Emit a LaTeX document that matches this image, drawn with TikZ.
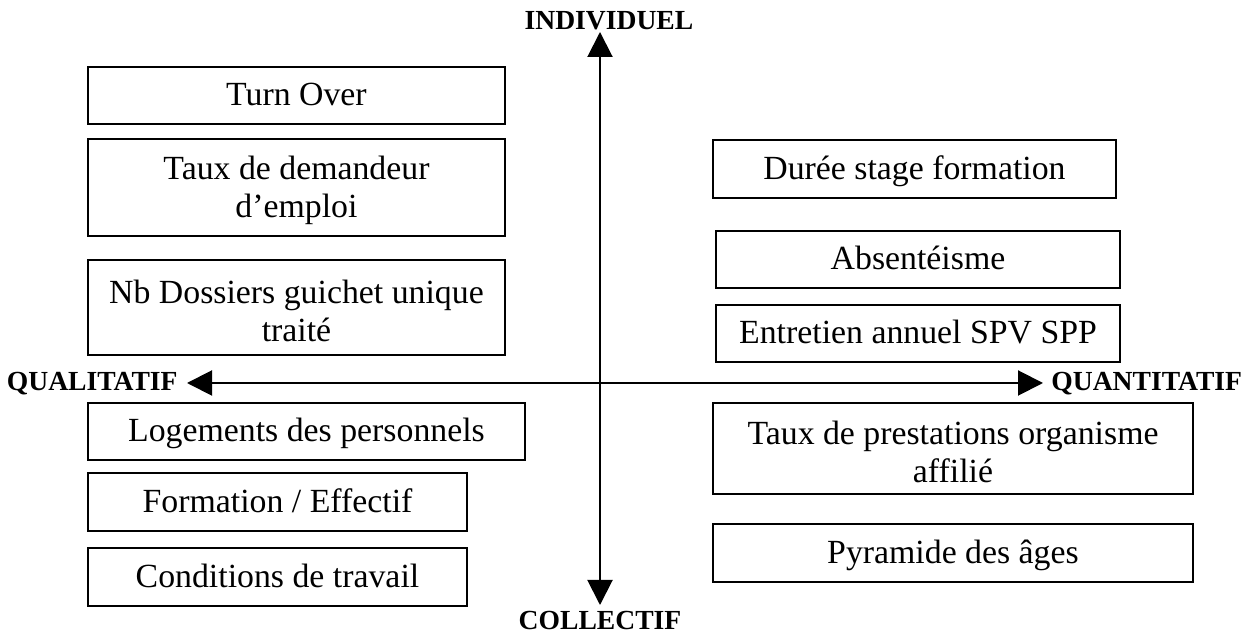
\documentclass[tikz,border=0pt]{standalone}
\usepackage{fontspec}
\setmainfont{Liberation Serif}
\usetikzlibrary{arrows.meta}
\newcommand{\toppad}{\rule{0pt}{0.87em}}
\begin{document}
\begin{tikzpicture}[x=0.5pt,y=-0.5pt,
  box/.style={draw, line width=1pt, inner sep=0pt, font=\fontsize{16.9}{19}\selectfont, align=center},
  one/.style={text height=1.25em, text depth=0.2em},
  axislabel/.style={font=\fontsize{13.8}{15}\selectfont\bfseries, inner sep=0pt},
  axisline/.style={line width=1pt, {Triangle[length=12.5pt,width=12.5pt]}-{Triangle[length=12.5pt,width=12.5pt]}}]
\useasboundingbox (0,0) rectangle (1243,635);
% axes
\coordinate (top) at (600,32);
\coordinate (bot) at (600,605);
\coordinate (lft) at (187,383);
\coordinate (rgt) at (1043,383);
\draw[axisline] (bot) -- (top);
\draw[axisline] (lft) -- (rgt);
\node[axislabel, anchor=base] (ind) at (609,30) {INDIVIDUEL};
\node[axislabel, anchor=base] (col) at (600,630) {COLLECTIF};
\node[axislabel, anchor=base east] (qual) at (178,391) {QUALITATIF};
\node[axislabel, anchor=base west] (quan) at (1051,391) {QUANTITATIF};
% left boxes
\node[box, one, minimum width=208.5pt, minimum height=28.5pt] (turn) at (296.5,95.5) {Turn Over};
\node[box, minimum width=208.5pt, minimum height=48.5pt] (dem) at (296.5,187.5) {\toppad Taux de demandeur\\d’emploi};
\node[box, minimum width=208.5pt, minimum height=47.5pt] (nb) at (296.5,307.5) {\toppad Nb Dossiers guichet unique\\traité};
\node[box, one, minimum width=218.5pt, minimum height=28.5pt] (log) at (306.5,431.5) {Logements des personnels};
\node[box, one, minimum width=189.5pt, minimum height=29pt] (form) at (277.5,502) {Formation / Effectif};
\node[box, one, minimum width=189.5pt, minimum height=29pt] (cond) at (277.5,577) {Conditions de travail};
% right boxes
\node[box, one, minimum width=201.5pt, minimum height=29pt] (duree) at (914.5,169) {Durée stage formation};
\node[box, one, minimum width=202pt, minimum height=28.5pt] (abs) at (918,259.5) {Absentéisme};
\node[box, one, minimum width=202pt, minimum height=28.5pt] (ent) at (918,333.5) {Entretien annuel SPV SPP};
\node[box, minimum width=240pt, minimum height=45.5pt] (prest) at (953,448.5) {\toppad Taux de prestations organisme\\affilié};
\node[box, one, minimum width=240pt, minimum height=29pt] (pyr) at (953,553) {Pyramide des âges};
\end{tikzpicture}
\end{document}
